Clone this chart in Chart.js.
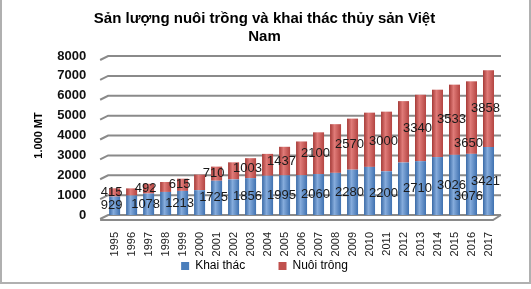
<!DOCTYPE html>
<html>
<head>
<meta charset="utf-8">
<script src="https://cdn.jsdelivr.net/npm/chart.js@4/dist/chart.umd.min.js"></script>
<style>
  html, body { margin: 0; padding: 0; background: #fff; }
  #box { position: absolute; left: 0; top: -2px; width: 527px; height: 282px; border: 2px solid #b0b0b0; }
  #wrap { position: absolute; left: 2px; top: 2px; width: 525px; height: 280px; }
</style>
</head>
<body>
<div id="box"></div>
<div id="wrap"><canvas id="myChart"></canvas></div>
<script>
// data
var years = ['1995', '1996', '1997', '1998', '1999', '2000', '2001', '2002', '2003', '2004', '2005', '2006',
  '2007', '2008', '2009', '2010', '2011', '2012', '2013', '2014', '2015', '2016', '2017'];
var khaiThac = [929, 980, 1078, 1160, 1213, 1250, 1725, 1790, 1856, 1975, 1995, 2000,
  2060, 2120, 2280, 2420, 2200, 2640, 2710, 2915, 3026, 3076, 3421];
var nuoiTrong = [415, 360, 492, 500, 615, 780, 710, 860, 1003, 1100, 1437, 1700,
  2100, 2450, 2570, 2730, 3000, 3090, 3340, 3390, 3533, 3650, 3858];
// which bars carry a value label in the original
var labelled = ['1995', '1997', '1999', '2001', '2003', '2005', '2007', '2009', '2011', '2013', '2015', '2016', '2017'];

var colors = {
  blue: ['#3a6aa6', '#86acdc', '#3f71b0'],
  red: ['#a53a37', '#e07b78', '#b34441']
};

// grid lines with a small slanted stub on the left, like the 3D back wall
var wallPlugin = {
  id: 'wall',
  beforeDatasetsDraw: function (chart) {
    var ctx = chart.ctx;
    var area = chart.chartArea;
    var ys = chart.scales.y;
    ctx.save();
    ctx.strokeStyle = '#8a8a8a';
    ctx.lineWidth = 2;
    ys.ticks.forEach(function (t) {
      var y = ys.getPixelForValue(t.value);
      ctx.beginPath();
      ctx.moveTo(area.left - 6, y + 4);
      ctx.lineTo(area.left + 2, y);
      ctx.lineTo(area.right + 4, y);
      ctx.stroke();
    });
    // floor edge on the right
    var y0 = ys.getPixelForValue(0);
    ctx.beginPath();
    ctx.moveTo(area.right + 4, y0);
    ctx.lineTo(area.right - 4, y0 + 5);
    ctx.lineTo(area.left - 6, y0 + 5);
    ctx.stroke();
    ctx.restore();
  }
};

// shade each bar like a cylinder (own options object per bar, they are shared otherwise)
var cylinderPlugin = {
  id: 'cylinder',
  beforeDatasetsDraw: function (chart) {
    var ctx = chart.ctx;
    chart.data.datasets.forEach(function (ds, di) {
      var meta = chart.getDatasetMeta(di);
      var c = di === 0 ? colors.blue : colors.red;
      meta.data.forEach(function (bar) {
        var g = ctx.createLinearGradient(bar.x - bar.width / 2, 0, bar.x + bar.width / 2, 0);
        g.addColorStop(0, c[0]);
        g.addColorStop(0.4, c[1]);
        g.addColorStop(1, c[2]);
        var o = bar.$baseOptions || bar.options;
        bar.$baseOptions = o;
        var own = Object.create(o);
        own.backgroundColor = g;
        bar.options = own;
      });
    });
  }
};

var labelPlugin = {
  id: 'valueLabels',
  afterDatasetsDraw: function (chart) {
    var ctx = chart.ctx;
    ctx.save();
    ctx.font = '13px "Liberation Sans", Arial, sans-serif';
    ctx.fillStyle = '#1a1a1a';
    ctx.textAlign = 'center';
    ctx.textBaseline = 'middle';
    chart.data.datasets.forEach(function (ds, di) {
      var meta = chart.getDatasetMeta(di);
      meta.data.forEach(function (bar, i) {
        if (labelled.indexOf(years[i]) < 0) return;
        var y = (bar.y + bar.base) / 2;
        if (years[i] === '2016') y += di === 0 ? 12 : 26;
        ctx.fillText(ds.data[i], bar.x - 3, y);
      });
    });
    ctx.restore();
  }
};

var ctx = document.getElementById('myChart');
var myChart = new Chart(ctx, {
  type: 'bar',
  data: {
    labels: years,
    datasets: [{
      label: 'Khai thác',
      data: khaiThac,
      backgroundColor: '#4a7ebb'
    }, {
      label: 'Nuôi trồng',
      data: nuoiTrong,
      backgroundColor: '#c0504d'
    }]
  },
  options: {
    responsive: true,
    maintainAspectRatio: false,
    animation: false,
    layout: { padding: { left: 30, right: 30, top: 2, bottom: 0 } },
    datasets: {
      bar: { categoryPercentage: 0.9, barPercentage: 0.72 }
    },
    plugins: {
      title: {
        display: true,
        text: ['Sản lượng nuôi trồng và khai thác thủy sản Việt', 'Nam'],
        color: '#000',
        font: { family: '"Liberation Sans", Arial, sans-serif', size: 15, weight: 'bold', lineHeight: 1.2 },
        padding: { top: 6, bottom: 10 }
      },
      legend: {
        position: 'bottom',
        labels: {
          boxWidth: 8,
          boxHeight: 8,
          padding: 0,
          color: '#111',
          font: { family: '"Liberation Sans", Arial, sans-serif', size: 12 },
          generateLabels: function (chart) {
            return chart.data.datasets.map(function (ds, i) {
              return {
                // keep a gap between the two entries (padding 0 keeps the legend low)
                text: i === 0 ? ds.label + '          ' : ds.label,
                fillStyle: i === 0 ? '#4a7ebb' : '#c0504d',
                strokeStyle: i === 0 ? '#4a7ebb' : '#c0504d',
                lineWidth: 0,
                datasetIndex: i
              };
            });
          }
        }
      },
      tooltip: { enabled: false }
    },
    scales: {
      x: {
        stacked: true,
        grid: { display: false },
        border: { display: false },
        afterFit: function (scale) { scale.height = 45; },
        ticks: {
          minRotation: 90,
          maxRotation: 90,
          autoSkip: false,
          color: '#222',
          padding: 9,
          font: { family: '"Liberation Sans", Arial, sans-serif', size: 11 }
        }
      },
      y: {
        stacked: true,
        min: 0,
        max: 8000,
        border: { display: false },
        grid: { display: false },
        ticks: {
          stepSize: 1000,
          autoSkip: false,
          padding: 12,
          color: '#111',
          font: { family: '"Liberation Sans", Arial, sans-serif', size: 13, weight: 'bold' },
          callback: function (v) { return String(v); }
        },
        title: {
          display: true,
          text: '1.000 MT',
          color: '#000',
          padding: { top: 0, bottom: 0 },
          font: { family: '"Liberation Sans", Arial, sans-serif', size: 11, weight: 'bold' }
        }
      }
    }
  },
  plugins: [wallPlugin, cylinderPlugin, labelPlugin]
});
</script>
</body>
</html>
